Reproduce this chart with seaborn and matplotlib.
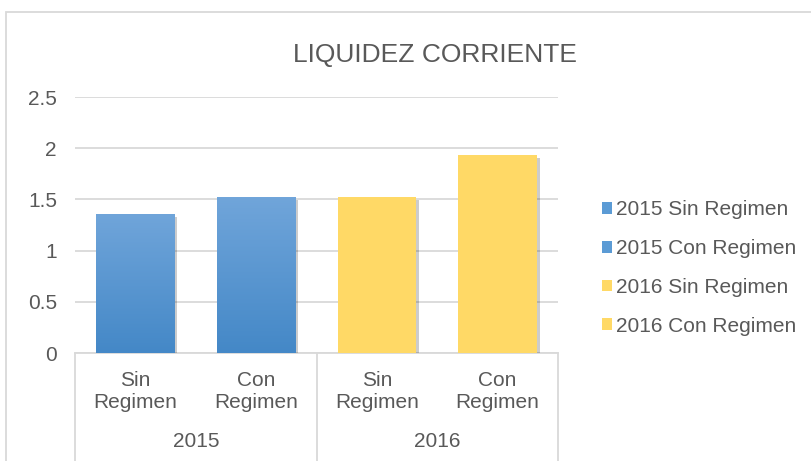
import numpy as np
import pandas as pd
import seaborn as sns
import matplotlib.pyplot as plt
import matplotlib.patheffects as pe
from matplotlib.patches import Rectangle, Patch

## data
years = ["2015", "2015", "2016", "2016"]
regimen = ["Sin Regimen", "Con Regimen", "Sin Regimen", "Con Regimen"]
values = [1.36, 1.52, 1.52, 1.93]
series = [y + " " + r for y, r in zip(years, regimen)]
colors = ["#5B9BD5", "#5B9BD5", "#FFD966", "#FFD966"]

df = pd.DataFrame({"pos": range(4), "serie": series, "valor": values})

sns.set_style("white")
plt.rcParams["font.family"] = ["Liberation Sans", "DejaVu Sans"]
gris = "#595959"
linea = "#D9D9D9"

fig = plt.figure(figsize=(8.11, 4.61), dpi=100)
ax = fig.add_axes([75 / 811, 108 / 461, 483 / 811, 256 / 461])

sns.barplot(data=df, x="pos", y="valor", hue="serie", palette=dict(zip(series, colors)),
            dodge=False, width=0.65, saturation=1, legend=False, ax=ax, zorder=3,
            edgecolor="none", linewidth=0)

# gradient on the blue bars + soft shadow
top_rgb = np.array([112, 165, 218]) / 255
bot_rgb = np.array([68, 136, 199]) / 255
grad = np.linspace(0, 1, 100)[:, None, None]
img = top_rgb * (1 - grad) + bot_rgb * grad
for p, c in zip(sorted(ax.patches, key=lambda q: q.get_x()), colors):
    p.set_path_effects([pe.SimplePatchShadow(offset=(2, -2), shadow_rgbFace="k", alpha=0.2), pe.Normal()])
    if c == "#5B9BD5":
        x0, w, h = p.get_x(), p.get_width(), p.get_height()
        im = ax.imshow(img, extent=[x0, x0 + w, 0, h], aspect="auto", zorder=3.5)
        im.set_clip_path(p)

ax.set_xlim(-0.5, 3.5)
ax.set_ylim(0, 2.5)
ax.set_yticks([0, 0.5, 1, 1.5, 2, 2.5], ["0", "0.5", "1", "1.5", "2", "2.5"])
ax.yaxis.grid(True, color=linea, linewidth=1.3, zorder=0)
ax.set_axisbelow(True)
for s in ["top", "right", "left"]:
    ax.spines[s].set_visible(False)
ax.spines["bottom"].set_color(linea)
ax.spines["bottom"].set_linewidth(1.3)

ax.set_xticks(range(4), [""] * 4)
ax.tick_params(axis="x", length=0)
ax.tick_params(axis="y", length=0, pad=13, labelsize=15, labelcolor=gris)
ax.set_xlabel("")
ax.set_ylabel("")

# two-level category labels
trans = ax.get_xaxis_transform()
for i, r in enumerate(regimen):
    ax.text(i, -0.152, r.replace(" ", "\n"), transform=trans, ha="center", va="center",
            fontsize=15, color=gris, linespacing=1.2)
for xv in [-0.5, 1.5, 3.5]:
    ax.plot([xv, xv], [0, -0.5], transform=trans, color=linea, lw=1.3, clip_on=False)
for i, y in enumerate(["2015", "2016"]):
    ax.text(2 * i + 0.5, -0.345, y, transform=trans, ha="center", va="center",
            fontsize=15, color=gris)

fig.text(435 / 811, (461 - 55) / 461, "LIQUIDEZ CORRIENTE", ha="center", va="center",
         fontsize=19, color=gris)

handles = [Patch(facecolor=c, edgecolor="none") for c in colors]
fig.legend(handles, series, loc="center left", bbox_to_anchor=(602 / 811, (461 - 268) / 461),
           frameon=False, fontsize=15, labelcolor=gris, handlelength=0.5, handleheight=0.5,
           handletextpad=0.15, labelspacing=0.95, borderpad=0, borderaxespad=0)

# outer chart border
fig.patches.append(Rectangle((6 / 811, -0.1), 1.0, (461 - 12.5) / 461 + 0.1,
                             transform=fig.transFigure, fill=False, edgecolor=linea, lw=1.3))

fig.savefig("out.png", dpi=100)
